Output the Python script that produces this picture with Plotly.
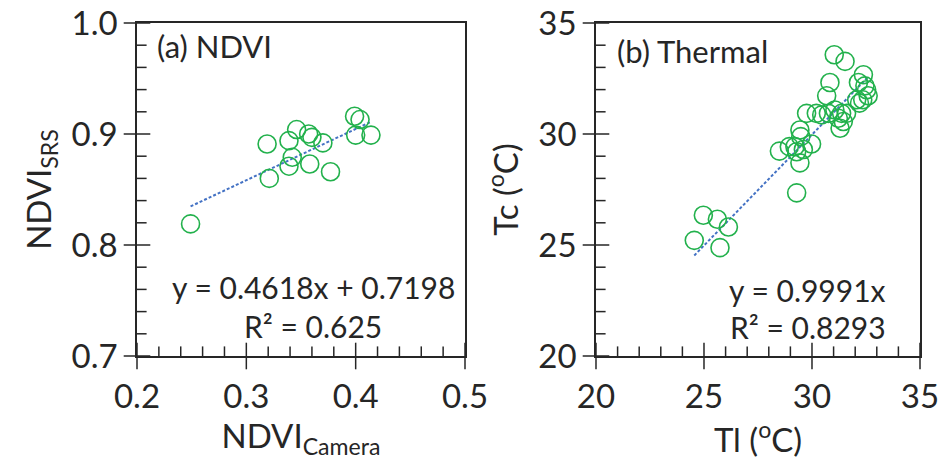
import plotly.graph_objects as go

# Panel (a) NDVI
ndvi_cam = [0.249, 0.319, 0.321, 0.339, 0.346, 0.342, 0.339, 0.357, 0.360, 0.358,
            0.370, 0.377, 0.399, 0.404, 0.400, 0.414]
ndvi_srs = [0.819, 0.891, 0.860, 0.894, 0.904, 0.879, 0.871, 0.900, 0.897, 0.873,
            0.892, 0.866, 0.916, 0.913, 0.899, 0.899]
fit_a = (0.4618, 0.7198)

# Panel (b) Thermal
tl = [24.55, 24.97, 25.62, 26.13, 25.74, 28.49, 28.95, 29.21, 29.29, 29.44,
      29.48, 29.44, 29.29, 29.60, 29.98, 29.75, 30.20, 30.45, 30.76, 30.68,
      30.83, 31.03, 31.53, 31.06, 31.22, 31.30, 31.45, 31.60, 31.37, 32.07,
      32.15, 32.38, 32.45, 32.60, 32.35, 32.20, 32.53]
tc = [25.21, 26.34, 26.16, 25.81, 24.88, 29.23, 29.43, 29.43, 29.20, 30.18,
      29.88, 28.70, 27.35, 29.30, 29.55, 30.93, 30.93, 30.86, 30.93, 31.72,
      32.32, 33.57, 33.27, 31.08, 30.71, 30.26, 30.56, 30.93, 30.93, 31.54,
      32.32, 32.67, 32.17, 31.72, 31.54, 31.39, 31.99]
fit_b = 0.9991

# axis ranges and tick steps
xr_a, yr_a, step_a, mstep_a = [0.2, 0.5], [0.7, 1.0], 0.1, 0.02
xr_b, yr_b, step_b, mstep_b = [20, 35], [20, 35], 5, 1

FONT = "Lato"
AX = "#262626"
GREEN = "#22B14C"
BLUE = "#4472C4"

W, H = 943, 467
ML, MR, MT, MB = 137, 23, 23, 111
dom_a = [0, 0.4189]
dom_b = [0.5862, 1]
plot_w = W - ML - MR
plot_h = H - MT - MB

fig = go.Figure()

mk = dict(symbol="circle-open", size=18, color=GREEN, line=dict(width=1.6, color=GREEN))

xa = [min(ndvi_cam), max(ndvi_cam)]
fig.add_trace(go.Scatter(x=xa, y=[fit_a[0] * v + fit_a[1] for v in xa], mode="lines",
                         line=dict(color=BLUE, width=2, dash="3px,2px"),
                         xaxis="x", yaxis="y", showlegend=False, hoverinfo="skip"))
fig.add_trace(go.Scatter(x=ndvi_cam, y=ndvi_srs, mode="markers", marker=mk,
                         xaxis="x", yaxis="y", showlegend=False))

xb = [min(tl), max(tl)]
fig.add_trace(go.Scatter(x=xb, y=[fit_b * v for v in xb], mode="lines",
                         line=dict(color=BLUE, width=2, dash="3px,2px"),
                         xaxis="x2", yaxis="y2", showlegend=False, hoverinfo="skip"))
fig.add_trace(go.Scatter(x=tl, y=tc, mode="markers", marker=mk,
                         xaxis="x2", yaxis="y2", showlegend=False))


def tick_marks(xr, yr, step, mstep, xref, yref, dom):
    """Crossing major ticks and inside minor ticks on the left and bottom axes."""
    nmin = int(round((xr[1] - xr[0]) / mstep))
    per = int(round(step / mstep))
    xmaj = [xr[0] + i * mstep for i in range(nmin + 1) if i % per == 0]
    xmin = [xr[0] + i * mstep for i in range(nmin + 1) if i % per != 0]
    nminy = int(round((yr[1] - yr[0]) / mstep))
    ymaj = [yr[0] + i * mstep for i in range(nminy + 1) if i % per == 0]
    ymin = [yr[0] + i * mstep for i in range(nminy + 1) if i % per != 0]
    px_w = (dom[1] - dom[0]) * plot_w
    offx = 4 * (xr[1] - xr[0]) / px_w
    offy = 4 * (yr[1] - yr[0]) / plot_h
    common = dict(mode="markers", xaxis=xref, yaxis=yref, showlegend=False,
                  hoverinfo="skip", cliponaxis=False)
    ln = dict(width=1.5, color=AX)
    # bottom axis
    fig.add_trace(go.Scatter(x=xmaj, y=[yr[0]] * len(xmaj),
                             marker=dict(symbol="line-ns", size=19, line=ln), **common))
    fig.add_trace(go.Scatter(x=xmin, y=[yr[0] + offy] * len(xmin),
                             marker=dict(symbol="line-ns", size=8, line=ln), **common))
    # left axis
    fig.add_trace(go.Scatter(x=[xr[0]] * len(ymaj), y=ymaj,
                             marker=dict(symbol="line-ew", size=19, line=ln), **common))
    fig.add_trace(go.Scatter(x=[xr[0] + offx] * len(ymin), y=ymin,
                             marker=dict(symbol="line-ew", size=8, line=ln), **common))


tick_marks(xr_a, yr_a, step_a, mstep_a, "x", "y", dom_a)
tick_marks(xr_b, yr_b, step_b, mstep_b, "x2", "y2", dom_b)

tickfont = dict(family=FONT, size=33, color="#262626")
titlefont = dict(family=FONT, size=33, color="#262626")


def main_axis(rng, dtick, fmt, domain, anchor, title, standoff):
    return dict(range=rng, dtick=dtick, tickformat=fmt, ticks="outside",
                ticklen=11, tickwidth=1, tickcolor="rgba(0,0,0,0)", showline=True,
                linecolor=AX, linewidth=1.6, mirror=True,
                showgrid=False, zeroline=False,
                tickfont=tickfont, automargin=False,
                domain=domain, anchor=anchor,
                title=dict(text=title, font=titlefont, standoff=standoff))


fig.update_layout(
    template="none",
    width=W, height=H,
    margin=dict(l=ML, r=MR, t=MT, b=MB, autoexpand=False),
    font=dict(family=FONT, color="#262626"),
    showlegend=False,
    xaxis=main_axis(xr_a, step_a, ".1f", dom_a, "y", "NDVI<sub>Camera</sub>", 2),
    yaxis=main_axis(yr_a, step_a, ".1f", [0, 1], "x", "NDVI<sub>SRS</sub>", 10),
    xaxis2=main_axis(xr_b, step_b, "d", dom_b, "y2", "Tl (<sup>o</sup>C)", 2),
    yaxis2=main_axis(yr_b, step_b, "d", [0, 1], "x2", "Tc (<sup>o</sup>C)", 10),
)

ann_font = dict(family=FONT, size=30, color="#262626")
lab_font = dict(family=FONT, size=31, color="#262626")
fig.add_annotation(text="(a) NDVI", xref="x domain", yref="y domain", x=0.055, y=0.93,
                   xanchor="left", yanchor="middle", showarrow=False, font=lab_font)
fig.add_annotation(text="(b) Thermal", xref="x2 domain", yref="y2 domain", x=0.058, y=0.915,
                   xanchor="left", yanchor="middle", showarrow=False, font=lab_font)
fig.add_annotation(text=f"y = {fit_a[0]}x + {fit_a[1]}", xref="x domain", yref="y domain",
                   x=0.537, y=0.207, xanchor="center", yanchor="middle", showarrow=False, font=ann_font)
fig.add_annotation(text="R² = 0.625", xref="x domain", yref="y domain",
                   x=0.537, y=0.09, xanchor="center", yanchor="middle", showarrow=False, font=ann_font)
fig.add_annotation(text=f"y = {fit_b}x", xref="x2 domain", yref="y2 domain",
                   x=0.654, y=0.198, xanchor="center", yanchor="middle", showarrow=False, font=ann_font)
fig.add_annotation(text="R² = 0.8293", xref="x2 domain", yref="y2 domain",
                   x=0.654, y=0.087, xanchor="center", yanchor="middle", showarrow=False, font=ann_font)

fig.write_html("out.html", config={"displayModeBar": False},
               post_script="document.body.style.margin='0';")
